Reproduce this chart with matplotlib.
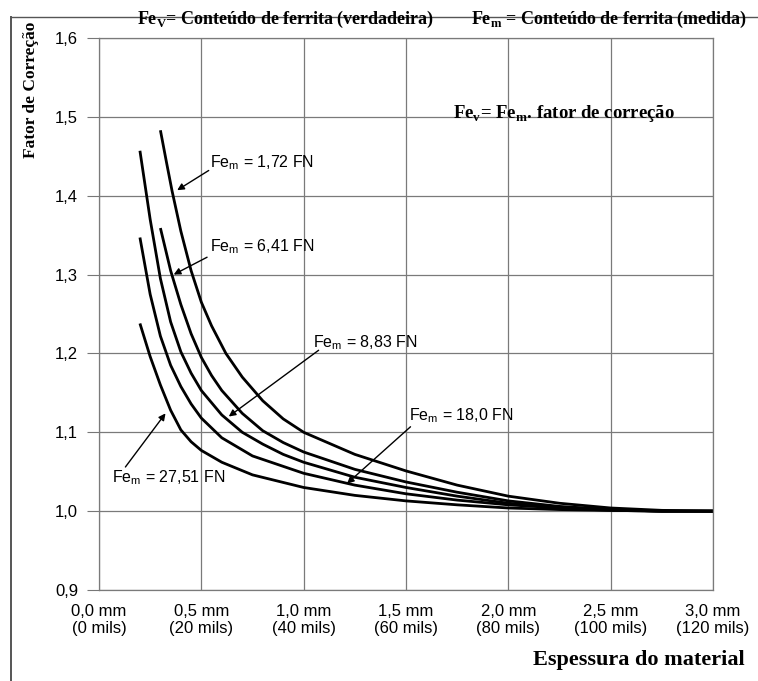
import matplotlib
matplotlib.use("Agg")
import matplotlib.pyplot as plt
from matplotlib.lines import Line2D

# thickness (mm) / correction factor
x_172 = [0.30, 0.33, 0.357, 0.40, 0.45, 0.50, 0.55, 0.62, 0.70, 0.80, 0.90, 1.0, 1.25, 1.5, 1.75, 2.0, 2.25, 2.5, 2.75, 3.0]
y_172 = [1.483, 1.442, 1.406, 1.355, 1.305, 1.265, 1.235, 1.200, 1.170, 1.140, 1.117, 1.100, 1.072, 1.051, 1.033, 1.019, 1.010, 1.004, 1.001, 1.000]

x_641 = [0.30, 0.35, 0.40, 0.45, 0.50, 0.55, 0.60, 0.70, 0.80, 0.90, 1.0, 1.25, 1.5, 1.75, 2.0, 2.25, 2.5, 2.75, 3.0]
y_641 = [1.359, 1.305, 1.262, 1.225, 1.195, 1.172, 1.153, 1.124, 1.102, 1.087, 1.075, 1.053, 1.037, 1.024, 1.013, 1.006, 1.002, 1.000, 1.000]

x_883 = [0.20, 0.25, 0.30, 0.35, 0.40, 0.45, 0.50, 0.60, 0.70, 0.80, 0.90, 1.0, 1.25, 1.5, 1.75, 2.0, 2.25, 2.5, 2.75, 3.0]
y_883 = [1.457, 1.370, 1.295, 1.240, 1.202, 1.175, 1.153, 1.122, 1.100, 1.085, 1.072, 1.062, 1.043, 1.030, 1.019, 1.010, 1.005, 1.002, 1.000, 1.000]

x_180 = [0.20, 0.25, 0.30, 0.35, 0.40, 0.45, 0.50, 0.60, 0.75, 1.0, 1.25, 1.5, 1.75, 2.0, 2.25, 2.5, 2.75, 3.0]
y_180 = [1.347, 1.275, 1.222, 1.185, 1.158, 1.136, 1.118, 1.093, 1.070, 1.048, 1.033, 1.022, 1.014, 1.008, 1.004, 1.001, 1.000, 1.000]

x_2751 = [0.20, 0.25, 0.30, 0.35, 0.40, 0.45, 0.50, 0.60, 0.75, 1.0, 1.25, 1.5, 1.75, 2.0, 2.25, 2.5, 2.75, 3.0]
y_2751 = [1.238, 1.196, 1.160, 1.128, 1.103, 1.088, 1.077, 1.062, 1.046, 1.030, 1.020, 1.013, 1.008, 1.004, 1.002, 1.001, 1.000, 1.000]

curves = [(x_172, y_172), (x_641, y_641), (x_883, y_883), (x_180, y_180), (x_2751, y_2751)]

# label text, text position, arrow tail, arrow tip
labels = ["1,72", "6,41", "8,83", "18,0", "27,51"]
label_pos = [(0.544, 1.442), (0.544, 1.335), (1.044, 1.214), (1.513, 1.121), (0.064, 1.043)]
arrow_tail = [(0.536, 1.432), (0.528, 1.322), (1.073, 1.204), (1.522, 1.107), (0.129, 1.056)]
arrow_tip = [(0.382, 1.407), (0.365, 1.300), (0.634, 1.120), (1.212, 1.035), (0.325, 1.124)]

xticks = [0.0, 0.5, 1.0, 1.5, 2.0, 2.5, 3.0]
xticklabels = ["0,0 mm\n(0 mils)", "0,5 mm\n(20 mils)", "1,0 mm\n(40 mils)", "1,5 mm\n(60 mils)",
               "2,0 mm\n(80 mils)", "2,5 mm\n(100 mils)", "3,0 mm\n(120 mils)"]
yticks = [0.9, 1.0, 1.1, 1.2, 1.3, 1.4, 1.5, 1.6]
yticklabels = ["0,9", "1,0", "1,1", "1,2", "1,3", "1,4", "1,5", "1,6"]

W, H = 758, 681
fig = plt.figure(figsize=(W / 100, H / 100), dpi=100)
ax = fig.add_axes([99 / W, 1 - 590 / H, 614 / W, 552 / H])

for xs, ys in curves:
    ax.plot(xs, ys, color="black", lw=2.0, solid_capstyle="butt")

sans = "Liberation Sans"
serif = "Liberation Serif"
for lab, tp, tail, tip in zip(labels, label_pos, arrow_tail, arrow_tip):
    ax.text(tp[0], tp[1], "Fe$_\\mathregular{m}$ = " + lab + " FN", fontsize=11.5, family=sans,
            ha="left", va="center")
    ax.annotate("", xy=tip, xytext=tail,
                arrowprops=dict(arrowstyle="-|>", color="black", lw=1.0,
                                mutation_scale=10, shrinkA=0, shrinkB=0))

ax.set_xlim(0, 3.0)
ax.set_ylim(0.9, 1.6)
ax.set_xticks(xticks)
ax.set_xticklabels(xticklabels, fontsize=12, family=sans, linespacing=1.15)
ax.set_yticks(yticks)
ax.set_yticklabels(yticklabels, fontsize=12, family=sans)
ax.tick_params(axis="x", length=0, pad=10)
ax.tick_params(axis="y", length=9, color="#777777", pad=6, direction="out")
ax.grid(True, color="#7a7a7a", lw=0.9)
ax.set_axisbelow(True)
for s in ax.spines.values():
    s.set_color("#7a7a7a")
    s.set_linewidth(0.9)

# texts outside the axes
fig.text(137 / W, 1 - 19 / H, "Fe$_\\mathregular{V}$= Conteúdo de ferrita (verdadeira)",
         family=serif, weight="bold", fontsize=13, ha="left", va="center")
fig.text(471 / W, 1 - 19 / H, "Fe$_\\mathregular{m}$ = Conteúdo de ferrita (medida)",
         family=serif, weight="bold", fontsize=13, ha="left", va="center")
fig.text(564 / W, 1 - 114 / H, "Fe$_\\mathregular{v}$= Fe$_\\mathregular{m}$. fator de correção",
         family=serif, weight="bold", fontsize=13.5, ha="center", va="center")
fig.text(31 / W, 1 - 90 / H, "Fator de Correção", family=serif, weight="bold",
         fontsize=12.5, rotation=90, ha="center", va="center")
fig.text(745 / W, 1 - 660 / H, "Espessura do material", family=serif, weight="bold",
         fontsize=16, ha="right", va="center")

# frame lines of the scanned figure
fig.add_artist(Line2D([11 / W, 11 / W], [0, 1 - 17 / H], transform=fig.transFigure, color="#555555", lw=1.4))
fig.add_artist(Line2D([11 / W, 1], [1 - 17 / H, 1 - 17 / H], transform=fig.transFigure, color="#555555", lw=1.0))

fig.savefig("out.png", dpi=100)
